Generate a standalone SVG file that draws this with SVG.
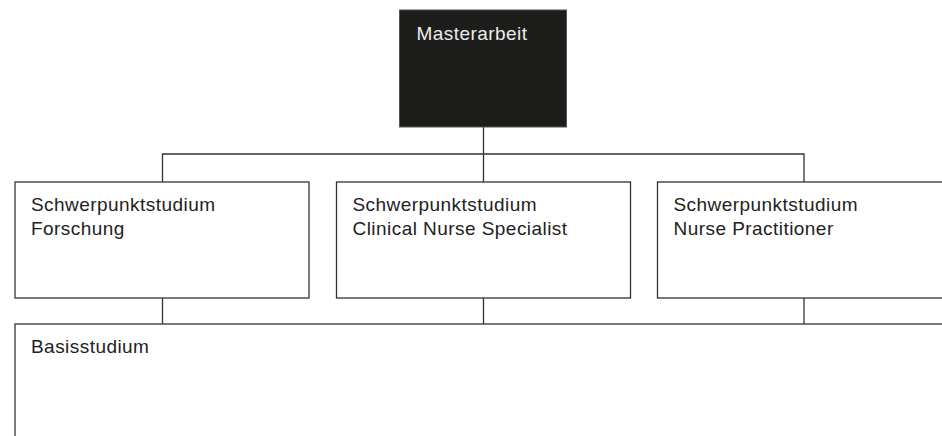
<svg xmlns="http://www.w3.org/2000/svg" width="942" height="436" viewBox="0 0 942 436">
<style>
.box{fill:#fff;stroke:#333;stroke-width:1.3}
.dark{fill:#1d1d1b;stroke:#555;stroke-width:1}
.t{font-family:"Liberation Sans",Arial,sans-serif;font-size:19px;letter-spacing:0.45px;fill:#222}
.tw{fill:#ececec}
.ln{fill:none;stroke:#333;stroke-width:1.3}
</style>
<rect width="942" height="436" fill="#fff"/>
<g id="connectors">
<line class="ln" x1="483.5" y1="127" x2="483.5" y2="182"/>
<polyline class="ln" points="162.5,182 162.5,154 804,154 804,182"/>
<line class="ln" x1="162.5" y1="298" x2="162.5" y2="324"/>
<line class="ln" x1="483.5" y1="298" x2="483.5" y2="324"/>
<line class="ln" x1="804" y1="298" x2="804" y2="324"/>
</g>
<g id="masterarbeit">
<rect class="dark" x="399.5" y="10" width="167" height="117"/>
<text class="t tw" x="416.5" y="40">Masterarbeit</text>
</g>
<g id="forschung">
<rect class="box" x="15" y="182" width="294" height="116"/>
<text class="t" x="31" y="210.7">Schwerpunktstudium</text>
<text class="t" x="31" y="235">Forschung</text>
</g>
<g id="cns">
<rect class="box" x="336.5" y="182" width="294" height="116"/>
<text class="t" x="352.5" y="210.7">Schwerpunktstudium</text>
<text class="t" x="352.5" y="235">Clinical Nurse Specialist</text>
</g>
<g id="np">
<rect class="box" x="657.5" y="182" width="294" height="116"/>
<text class="t" x="673.5" y="210.7">Schwerpunktstudium</text>
<text class="t" x="673.5" y="235">Nurse Practitioner</text>
</g>
<g id="basisstudium">
<rect class="box" x="15" y="324" width="940" height="130"/>
<text class="t" x="31" y="353.3">Basisstudium</text>
</g>
</svg>
